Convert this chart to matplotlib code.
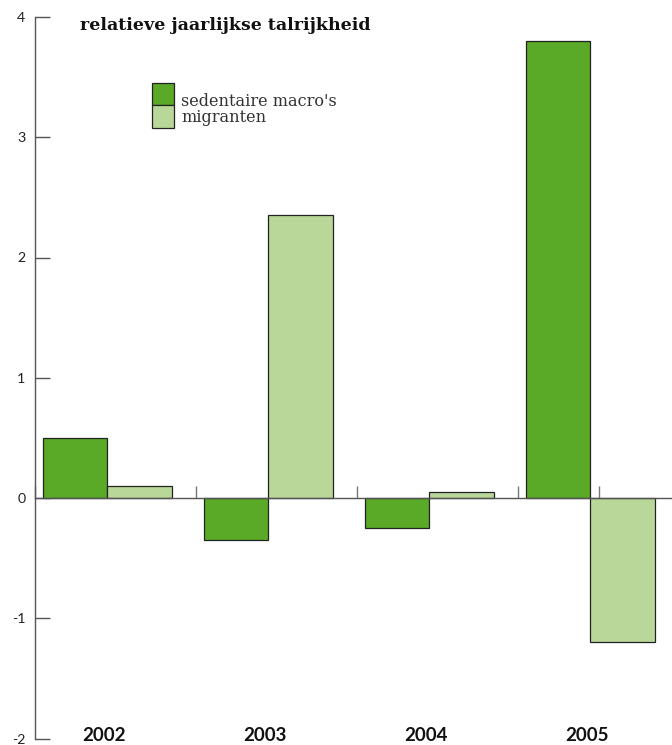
import matplotlib

matplotlib.use("Agg")
import matplotlib.pyplot as plt
from matplotlib.patches import Rectangle
import numpy as np

years = ["2002", "2003", "2004", "2005"]
sedentaire = [0.5, -0.35, -0.25, 3.8]
migranten = [0.1, 2.35, 0.05, -1.2]
y_ticks = [-2, -1, 0, 1, 2, 3, 4]
boundary_ticks = [0, 1, 2, 3, 3.5]

DARK = "#5aaa28"
LIGHT = "#bad79a"
EDGE = "#222222"

fig = plt.figure(figsize=(6.72, 7.45), dpi=100)
ax = fig.add_axes([35 / 672, 6.5 / 745, 1 - 35 / 672, 721.5 / 745])

x = np.arange(len(years))
width = 0.4
ax.bar(x + 0.05, sedentaire, width=width, align="edge", color=DARK, edgecolor=EDGE, linewidth=0.9, zorder=2)
ax.bar(x + 0.45, migranten, width=width, align="edge", color=LIGHT, edgecolor=EDGE, linewidth=0.9, zorder=2)

ax.set_xlim(0, 637 / 161)
ax.set_ylim(-2, 4)

for side in ("top", "right"):
    ax.spines[side].set_visible(False)
ax.spines["bottom"].set_position(("data", 0))
ax.spines["bottom"].set_color("#555555")
ax.spines["bottom"].set_linewidth(1.0)
ax.spines["left"].set_color("#555555")
ax.spines["left"].set_linewidth(1.0)

ax.set_yticks(y_ticks)
ax.set_yticklabels([str(v) for v in y_ticks])
ax.tick_params(axis="y", direction="in", length=11, width=1.0, color="#555555",
               pad=7, labelsize=10.2, labelcolor="#222222")
ax.set_xticks(boundary_ticks)
ax.set_xticklabels([])
ax.tick_params(axis="x", direction="in", length=9, width=1.0, color="#777777")
for label in ax.get_yticklabels():
    label.set_fontfamily("Lato")

for i, year in enumerate(years):
    ax.text(i + 0.43, -1.975, year, ha="center", va="center", fontsize=13.5,
            fontweight="bold", family="Lato", color="#111111", clip_on=False)

fig.text(80 / 672, 1 - 25 / 745, "relatieve jaarlijkse talrijkheid", ha="left", va="center",
         fontsize=12.5, fontweight="bold", family="DejaVu Serif", color="#111111")

# legend drawn by hand
fig.patches.append(Rectangle((152 / 672, 1 - 105 / 745), 22 / 672, 22 / 745, transform=fig.transFigure,
                             facecolor=DARK, edgecolor=EDGE, linewidth=0.9))
fig.patches.append(Rectangle((152 / 672, 1 - 128 / 745), 22 / 672, 23 / 745, transform=fig.transFigure,
                             facecolor=LIGHT, edgecolor=EDGE, linewidth=0.9))
fig.text(181 / 672, 1 - 101 / 745, "sedentaire macro's", ha="left", va="center",
         fontsize=11.6, family="DejaVu Serif", fontweight="light", color="#333333")
fig.text(181 / 672, 1 - 118 / 745, "migranten", ha="left", va="center",
         fontsize=11.6, family="DejaVu Serif", fontweight="light", color="#333333")

fig.savefig("out.png", dpi=100)
